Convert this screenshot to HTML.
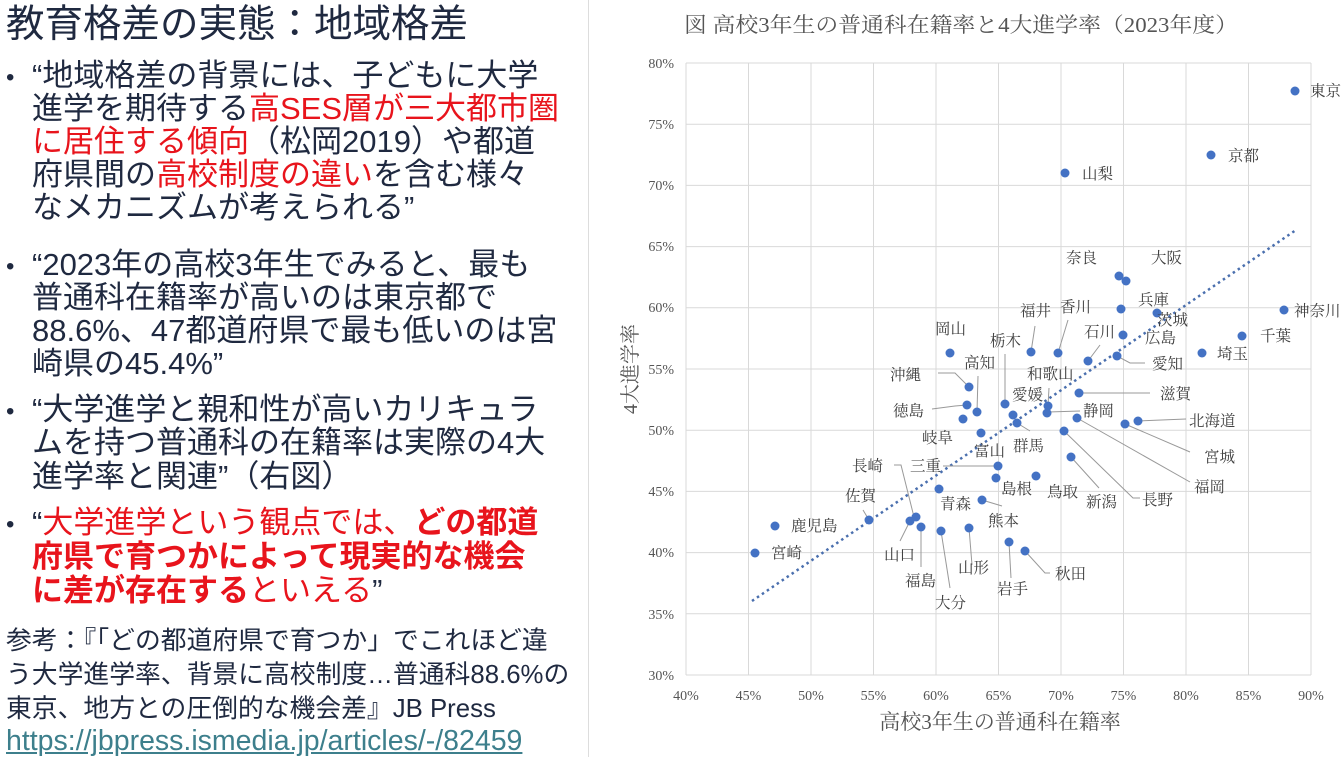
<!DOCTYPE html>
<html><head><meta charset="utf-8"><style>
body{margin:0;width:1342px;height:757px;background:#fff;overflow:hidden;position:relative;font-family:"Liberation Sans","Noto Sans CJK JP",sans-serif;color:#1f2940}
.l{position:absolute;white-space:nowrap;font-size:31px;line-height:33px;left:32px}
.b{position:absolute;left:6px;font-size:24px}
.r{color:#e8141c}.rb{color:#e8141c;font-weight:bold}
.s{position:absolute;left:6px;white-space:nowrap;font-size:25.8px;line-height:34px}
</style></head><body>
<div style="position:absolute;left:6px;top:2px;font-size:38.5px;line-height:46px;white-space:nowrap">教育格差の実態：地域格差</div>
<div class="b" style="top:64px">•</div>
<div class="l" style="top:59px">“地域格差の背景には、子どもに大学</div>
<div class="l" style="top:92px">進学を期待する<span class="r">高SES層が三大都市圏</span></div>
<div class="l" style="top:125px"><span class="r">に居住する傾向</span>（松岡2019）や都道</div>
<div class="l" style="top:158px">府県間の<span class="r">高校制度の違い</span>を含む様々</div>
<div class="l" style="top:191px">なメカニズムが考えられる”</div>
<div class="b" style="top:253px">•</div>
<div class="l" style="top:248px">“2023年の高校3年生でみると、最も</div>
<div class="l" style="top:281px">普通科在籍率が高いのは東京都で</div>
<div class="l" style="top:314px">88.6%、47都道府県で最も低いのは宮</div>
<div class="l" style="top:347px">崎県の45.4%”</div>
<div class="b" style="top:398px">•</div>
<div class="l" style="top:393px">“大学進学と親和性が高いカリキュラ</div>
<div class="l" style="top:426px">ムを持つ普通科の在籍率は実際の4大</div>
<div class="l" style="top:460px">進学率と関連”（右図）</div>
<div class="b" style="top:511px">•</div>
<div class="l" style="top:506px">“<span class="r">大学進学という観点では、</span><span class="rb">どの都道</span></div>
<div class="l" style="top:540px"><span class="rb">府県で育つかによって現実的な機会</span></div>
<div class="l" style="top:574px"><span class="rb">に差が存在する</span><span class="r">といえる</span>”</div>
<div class="s" style="top:624px">参考：『「どの都道府県で育つか」でこれほど違</div>
<div class="s" style="top:658px">う大学進学率、背景に高校制度…普通科88.6%の</div>
<div class="s" style="top:692px">東京、地方との圧倒的な機会差』JB Press</div>
<div class="s" style="top:724px;font-size:28.5px;color:#3d7f8c;text-decoration:underline">https://jbpress.ismedia.jp/articles/-/82459</div>
<div style="position:absolute;left:588px;top:0;width:1px;height:757px;background:#ddd"></div>
<svg style="position:absolute;left:0;top:0" width="1342" height="757" font-family="'Liberation Serif','Noto Serif CJK SC',serif" fill="#444">
<g stroke="#d9d9d9" stroke-width="1">
<line x1="686" y1="63" x2="686" y2="675"/><line x1="748.5" y1="63" x2="748.5" y2="675"/><line x1="811" y1="63" x2="811" y2="675"/><line x1="873.5" y1="63" x2="873.5" y2="675"/><line x1="936" y1="63" x2="936" y2="675"/><line x1="998.5" y1="63" x2="998.5" y2="675"/><line x1="1061" y1="63" x2="1061" y2="675"/><line x1="1123.5" y1="63" x2="1123.5" y2="675"/><line x1="1186" y1="63" x2="1186" y2="675"/><line x1="1248.5" y1="63" x2="1248.5" y2="675"/><line x1="1311" y1="63" x2="1311" y2="675"/>
<line x1="686" y1="63" x2="1311" y2="63"/><line x1="686" y1="124.2" x2="1311" y2="124.2"/><line x1="686" y1="185.4" x2="1311" y2="185.4"/><line x1="686" y1="246.6" x2="1311" y2="246.6"/><line x1="686" y1="307.8" x2="1311" y2="307.8"/><line x1="686" y1="369" x2="1311" y2="369"/><line x1="686" y1="430.2" x2="1311" y2="430.2"/><line x1="686" y1="491.4" x2="1311" y2="491.4"/><line x1="686" y1="552.6" x2="1311" y2="552.6"/><line x1="686" y1="613.8" x2="1311" y2="613.8"/><line x1="686" y1="675" x2="1311" y2="675"/>
</g>
<text x="684" y="32" font-size="21" fill="#555" textLength="554" lengthAdjust="spacingAndGlyphs">図 高校3年生の普通科在籍率と4大進学率（2023年度）</text>
<g font-size="14" text-anchor="end" fill="#555">
<text x="674" y="68">80%</text><text x="674" y="129">75%</text><text x="674" y="190">70%</text><text x="674" y="251">65%</text><text x="674" y="312">60%</text><text x="674" y="374">55%</text><text x="674" y="435">50%</text><text x="674" y="496">45%</text><text x="674" y="557">40%</text><text x="674" y="619">35%</text><text x="674" y="680">30%</text>
</g>
<g font-size="14" text-anchor="middle" fill="#555">
<text x="686" y="700">40%</text><text x="748.5" y="700">45%</text><text x="811" y="700">50%</text><text x="873.5" y="700">55%</text><text x="936" y="700">60%</text><text x="998.5" y="700">65%</text><text x="1061" y="700">70%</text><text x="1123.5" y="700">75%</text><text x="1186" y="700">80%</text><text x="1248.5" y="700">85%</text><text x="1311" y="700">90%</text>
</g>
<text x="1000" y="729" font-size="21" text-anchor="middle" fill="#555">高校3年生の普通科在籍率</text>
<text transform="translate(637,369) rotate(-90)" font-size="20" text-anchor="middle" fill="#555">4大進学率</text>
<line x1="752" y1="601" x2="1296" y2="230" stroke="#4a6fae" stroke-width="2.5" stroke-dasharray="2.5,3.5"/>
<g stroke="#999" stroke-width="1" fill="none">
<polyline points="938,373 955,373 969,387"/><polyline points="977,412 978,376"/><polyline points="932,409 955,406 967,405"/><polyline points="1005,404 1005,354"/><polyline points="1031,352 1035,326"/><polyline points="1058,353 1068,320"/><polyline points="1088,361 1100,345"/><polyline points="1117,356 1130,363 1145,363"/><polyline points="1048,406 1049,388"/><polyline points="1048,412 1080,411"/><polyline points="1079,393 1150,393"/><polyline points="1138,421 1186,419"/><polyline points="1125,424 1190,452"/><polyline points="1077,418 1190,482"/><polyline points="1064,431 1133,498 1140,498"/><polyline points="1071,457 1099,488"/><polyline points="1017,423 1030,431"/><polyline points="943,466 998,466"/><polyline points="982,500 1002,506"/><polyline points="894,465 901,465 914,517"/><polyline points="863,510 869,520"/><polyline points="900,541 910,521"/><polyline points="921,527 921,567"/><polyline points="941,531 950,588"/><polyline points="969,528 972,565"/><polyline points="1009,542 1011,578"/><polyline points="1025,551 1045,573 1050,573"/>
</g>
<g fill="#4472c4">
<circle cx="1295" cy="91" r="4.5"/><circle cx="1211" cy="155" r="4.5"/><circle cx="1065" cy="173" r="4.5"/><circle cx="1119" cy="276" r="4.5"/><circle cx="1126" cy="281" r="4.5"/><circle cx="1121" cy="309" r="4.5"/><circle cx="1284" cy="310" r="4.5"/><circle cx="1157" cy="313" r="4.5"/><circle cx="1242" cy="336" r="4.5"/><circle cx="1123" cy="335" r="4.5"/><circle cx="1202" cy="353" r="4.5"/><circle cx="950" cy="353" r="4.5"/><circle cx="1031" cy="352" r="4.5"/><circle cx="1058" cy="353" r="4.5"/><circle cx="1088" cy="361" r="4.5"/><circle cx="1117" cy="356" r="4.5"/><circle cx="969" cy="387" r="4.5"/><circle cx="977" cy="412" r="4.5"/><circle cx="967" cy="405" r="4.5"/><circle cx="963" cy="419" r="4.5"/><circle cx="1005" cy="404" r="4.5"/><circle cx="1048" cy="406" r="4.5"/><circle cx="1013" cy="415" r="4.5"/><circle cx="1017" cy="423" r="4.5"/><circle cx="1047" cy="413" r="4.5"/><circle cx="1079" cy="393" r="4.5"/><circle cx="1077" cy="418" r="4.5"/><circle cx="1125" cy="424" r="4.5"/><circle cx="1138" cy="421" r="4.5"/><circle cx="981" cy="433" r="4.5"/><circle cx="1064" cy="431" r="4.5"/><circle cx="998" cy="466" r="4.5"/><circle cx="996" cy="478" r="4.5"/><circle cx="1036" cy="476" r="4.5"/><circle cx="1071" cy="457" r="4.5"/><circle cx="982" cy="500" r="4.5"/><circle cx="939" cy="489" r="4.5"/><circle cx="869" cy="520" r="4.5"/><circle cx="775" cy="526" r="4.5"/><circle cx="755" cy="553" r="4.5"/><circle cx="916" cy="517" r="4.5"/><circle cx="910" cy="521" r="4.5"/><circle cx="921" cy="527" r="4.5"/><circle cx="941" cy="531" r="4.5"/><circle cx="969" cy="528" r="4.5"/><circle cx="1009" cy="542" r="4.5"/><circle cx="1025" cy="551" r="4.5"/>
</g>
<g font-size="15.5" fill="#404040">
<text x="1310" y="96">東京</text><text x="1228" y="161">京都</text><text x="1082" y="179">山梨</text><text x="1066" y="263">奈良</text><text x="1151" y="263">大阪</text><text x="1138" y="305">兵庫</text><text x="1294" y="316">神奈川</text><text x="1157" y="325">茨城</text><text x="1260" y="341">千葉</text><text x="1145" y="343">広島</text><text x="1217" y="359">埼玉</text><text x="935" y="334">岡山</text><text x="1020" y="316">福井</text><text x="1060" y="312">香川</text><text x="1084" y="337">石川</text><text x="1152" y="369">愛知</text><text x="964" y="368">高知</text><text x="890" y="380">沖縄</text><text x="990" y="346">栃木</text><text x="1027" y="379">和歌山</text><text x="1012" y="400">愛媛</text><text x="1083" y="416">静岡</text><text x="1160" y="399">滋賀</text><text x="1189" y="426">北海道</text><text x="1204" y="462">宮城</text><text x="1194" y="492">福岡</text><text x="893" y="416">徳島</text><text x="922" y="443">岐阜</text><text x="974" y="456">富山</text><text x="1013" y="451">群馬</text><text x="910" y="471">三重</text><text x="852" y="471">長崎</text><text x="1001" y="494">島根</text><text x="1047" y="497">鳥取</text><text x="1086" y="507">新潟</text><text x="1142" y="505">長野</text><text x="940" y="509">青森</text><text x="988" y="526">熊本</text><text x="845" y="501">佐賀</text><text x="791" y="531">鹿児島</text><text x="771" y="558">宮崎</text><text x="884" y="560">山口</text><text x="905" y="586">福島</text><text x="935" y="608">大分</text><text x="958" y="573">山形</text><text x="997" y="594">岩手</text><text x="1055" y="579">秋田</text>
</g>
</svg>
</body></html>
